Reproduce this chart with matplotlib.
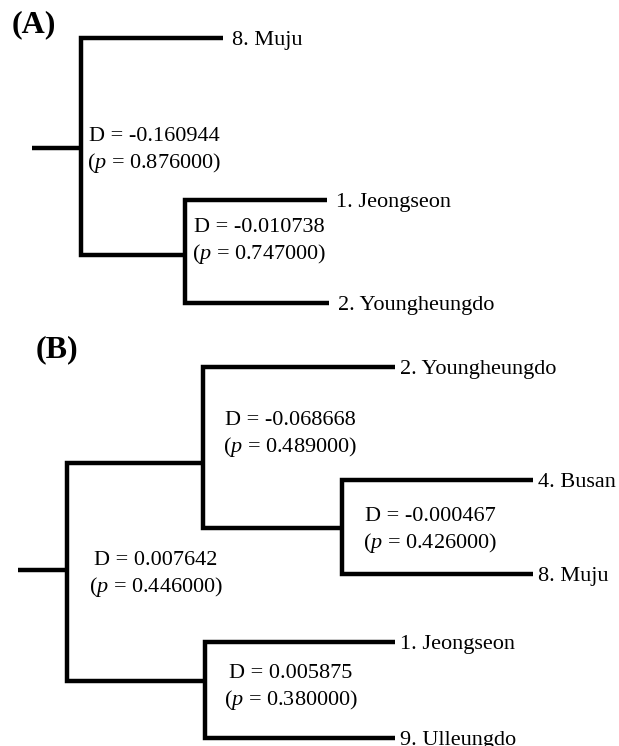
"""
Tajima's D trees for the two population groups (A) and (B)
"""

import matplotlib
matplotlib.use("Agg")
import matplotlib.pyplot as plt

plt.rcParams['font.family'] = ['Liberation Serif', 'DejaVu Serif']
plt.rcParams['mathtext.fontset'] = 'custom'
plt.rcParams['mathtext.rm'] = 'Liberation Serif'
plt.rcParams['mathtext.it'] = 'Liberation Serif:italic'

# ---- data ----
panel_names = ["(A)", "(B)"]

a_leaves = ["8. Muju", "1. Jeongseon", "2. Youngheungdo"]
a_D = ["-0.160944", "-0.010738"]
a_p = ["0.876000", "0.747000"]

b_leaves = ["2. Youngheungdo", "4. Busan", "8. Muju", "1. Jeongseon", "9. Ulleungdo"]
b_D = ["0.007642", "-0.068668", "-0.000467", "0.005875"]
b_p = ["0.446000", "0.489000", "0.426000", "0.380000"]

# ---- layout (pixel space of the figure) ----
# each clade: node x, top y, bottom y, top branch end x, bottom branch end x
a_clades = [(81, 38, 255, 223, 185),
            (185, 200, 303, 327, 329)]
a_root = (32, 81, 148)
a_leaf_pos = [(223, 38), (327, 200), (329, 303)]
a_text_pos = [(154, 141), (259, 232)]

b_clades = [(67, 463, 681, 203, 205),
            (203, 367, 528, 395, 342),
            (342, 480, 574, 533, 533),
            (205, 642, 738, 395, 395)]
b_root = (18, 67, 570)
b_leaf_pos = [(395, 367), (533, 480), (533, 574), (395, 642), (395, 738)]
b_text_pos = [(156, 565), (290, 425), (430, 521), (291, 678)]

LW = 3.2
FS = 16


def draw_tree(ax, clades, root, leaves, leaf_pos, D, p, text_pos, gap):
    x0, x1, y = root
    ax.plot([x0, x1], [y, y], color='black', lw=LW, solid_capstyle='butt')
    for xn, yt, yb, xt, xb in clades:
        ax.plot([xt, xn, xn, xb], [yt, yt, yb, yb], color='black', lw=LW,
                solid_joinstyle='miter', solid_capstyle='butt')
    for name, (lx, ly) in zip(leaves, leaf_pos):
        ax.text(lx + gap, ly + 7, name, fontsize=FS, ha='left', va='baseline')
    for d, pv, (tx, ty) in zip(D, p, text_pos):
        ax.text(tx, ty, f"D = {d}", fontsize=FS, ha='center', va='baseline')
        ax.text(tx, ty + 27, r"($\mathit{p}$ = " + pv + ")", fontsize=FS,
                ha='center', va='baseline')


fig = plt.figure(figsize=(6.19, 7.46), dpi=100)
ax = fig.add_axes([0, 0, 1, 1])
ax.set_xlim(0, 619)
ax.set_ylim(746, 0)
ax.axis('off')

draw_tree(ax, a_clades, a_root, a_leaves, a_leaf_pos, a_D, a_p, a_text_pos, 9)
draw_tree(ax, b_clades, b_root, b_leaves, b_leaf_pos, b_D, b_p, b_text_pos, 5)

ax.text(12, 32, panel_names[0], fontsize=23, fontweight='bold', va='baseline')
ax.text(36, 357, panel_names[1], fontsize=23, fontweight='bold', va='baseline')

plt.savefig('out.png', dpi=100)
